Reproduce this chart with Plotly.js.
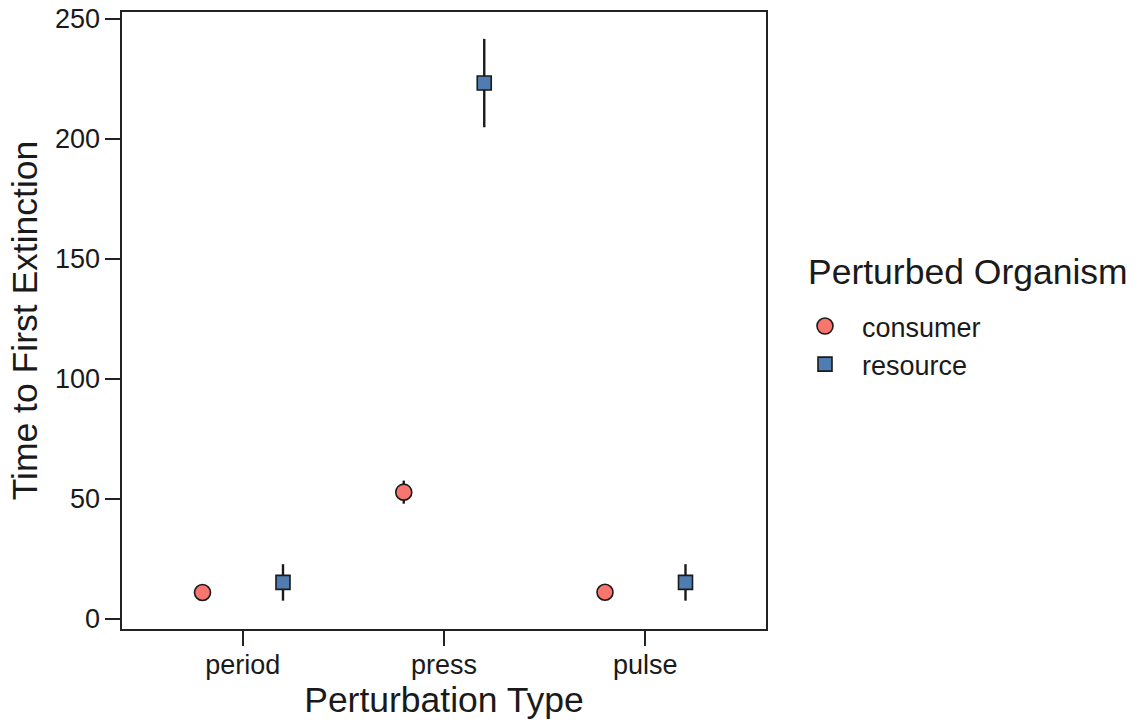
<!DOCTYPE html>
<html>
<head>
<meta charset="utf-8">
<script src="https://cdn.plot.ly/plotly-3.0.1.min.js"></script>
<style>
  html, body { margin: 0; padding: 0; background: #fff; }
  #chart { width: 1141px; height: 723px; }
</style>
</head>
<body>
<div id="chart"></div>
<script>
// Perturbation types on the x axis
const categories = ['period', 'press', 'pulse'];

// Mean time to first extinction and its error, per perturbed organism
const consumerMean = [11.0, 52.8, 11.1];
const consumerErr = [0.8, 4.8, 0.8];
const resourceMean = [15.2, 223.2, 15.2];
const resourceErr = [7.6, 18.4, 7.6];

const yTicks = [0, 50, 100, 150, 200, 250];

const legendTitle = 'Perturbed Organism';

const FONT = '"Liberation Sans", Arial, Helvetica, sans-serif';
const INK = '#1a1a1a';
const TICK_SIZE = 27;
const TITLE_SIZE = 35.5;

function series(name, y, err, symbol, size, color) {
  return {
    type: 'scatter',
    mode: 'markers',
    name: name,
    x: categories,
    y: y,
    error_y: { type: 'data', array: err, visible: true, color: INK, thickness: 2.4, width: 0 },
    marker: { symbol: symbol, size: size, color: color, line: { color: INK, width: 1.6 } },
    hoverinfo: 'x+y+name'
  };
}

const data = [
  series('consumer', consumerMean, consumerErr, 'circle', 16, '#F8766D'),
  series('resource', resourceMean, resourceErr, 'square', 14, '#4F7CB1')
];

function axisStyle(extra) {
  return Object.assign({
    showgrid: false,
    zeroline: false,
    showline: true,
    mirror: true,
    linecolor: '#222',
    linewidth: 1.6,
    ticks: 'outside',
    ticklen: 15,
    tickwidth: 1.6,
    tickcolor: '#222',
    tickfont: { size: TICK_SIZE, color: INK }
  }, extra);
}

const layout = {
  width: 1141,
  height: 723,
  paper_bgcolor: '#ffffff',
  plot_bgcolor: '#ffffff',
  margin: { l: 122, r: 375, t: 12, b: 94 },
  font: { family: FONT, color: INK },
  scattermode: 'group',
  showlegend: true,
  xaxis: axisStyle({
    type: 'category',
    range: [-0.6, 2.6],
    ticklabelstandoff: -4,
    title: { text: 'Perturbation Type', font: { size: TITLE_SIZE, color: INK }, standoff: 0 }
  }),
  yaxis: axisStyle({
    range: [-4.2, 252.8],
    tickvals: yTicks,
    title: { text: 'Time to First Extinction', font: { size: TITLE_SIZE, color: INK }, standoff: 6 }
  }),
  legend: {
    xref: 'container',
    yref: 'container',
    x: 788 / 1141,
    y: 1 - 302 / 723,
    xanchor: 'left',
    yanchor: 'top',
    itemwidth: 64,
    bgcolor: 'rgba(0,0,0,0)',
    font: { size: TICK_SIZE, color: INK },
    tracegroupgap: 4
  },
  annotations: [{
    text: legendTitle,
    xref: 'paper',
    yref: 'paper',
    x: (806 - 122) / 644,
    y: (629 - 272) / 617,
    xanchor: 'left',
    yanchor: 'middle',
    showarrow: false,
    font: { size: TITLE_SIZE, color: INK }
  }]
};

Plotly.newPlot('chart', data, layout, { displayModeBar: false, staticPlot: true });
</script>
</body>
</html>
